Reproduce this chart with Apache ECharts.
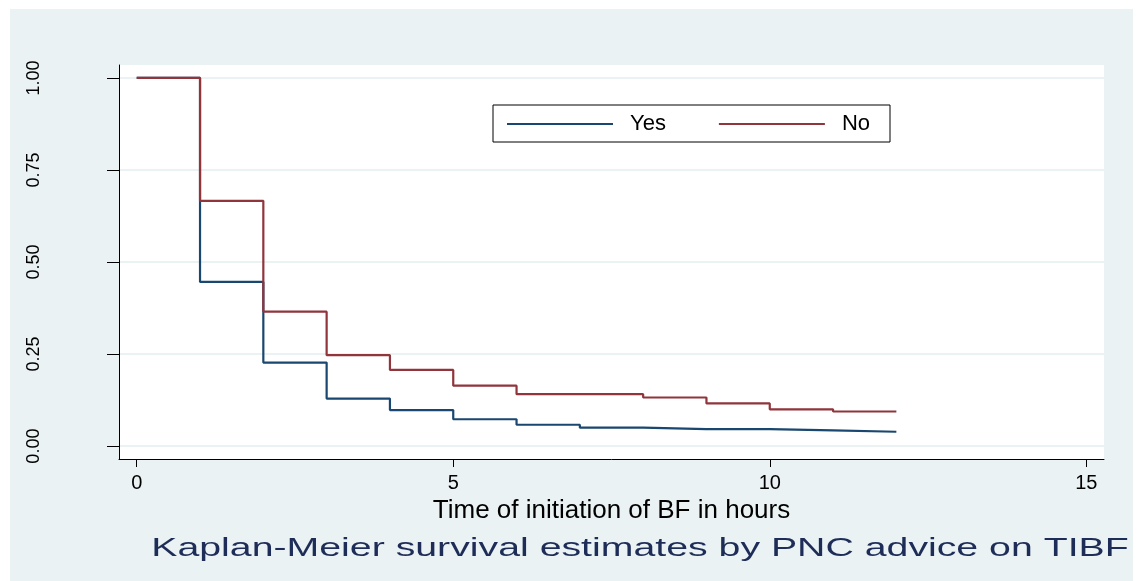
<!DOCTYPE html>
<html>
<head>
<meta charset="utf-8">
<script src="https://cdn.jsdelivr.net/npm/echarts@6/dist/echarts.min.js"></script>
<style>
html,body{margin:0;padding:0;background:#fff;}
#chart{width:1147px;height:581px;}
</style>
</head>
<body>
<div id="chart"></div>
<script>
// Data
const times   = [0, 1, 2, 3, 4, 5, 6, 7, 8, 9, 10, 11, 12];
const yesSurv = [1.00, 0.446, 0.227, 0.129, 0.098, 0.073, 0.058, 0.050, 0.046, 0.046, 0.043, 0.039, 0.039];
const noSurv  = [1.00, 0.666, 0.365, 0.247, 0.207, 0.164, 0.141, 0.141, 0.132, 0.116, 0.100, 0.094, 0.094];
const seriesNames = ['Yes', 'No'];
const xTicks = [0, 5, 10, 15];
const yTicks = [0, 0.25, 0.5, 0.75, 1];
const xTitle = 'Time of initiation of BF in hours';
const chartTitle = 'Kaplan-Meier survival estimates by PNC advice on TIBF';

const font = '"Liberation Sans", Arial, Helvetica, sans-serif';
const chart = echarts.init(document.getElementById('chart'));

chart.setOption({
  animation: false,
  backgroundColor: '#ffffff',
  graphic: [
    { type: 'rect', z: -100, silent: true,
      shape: { x: 10, y: 9, width: 1123, height: 572 },
      style: { fill: '#eaf2f3' } },
    { type: 'text', x: 640, y: 549, scaleX: 1.51, scaleY: 1,
      style: { text: chartTitle, fill: '#1e2d58', fontSize: 26, fontFamily: font,
               textAlign: 'center', textVerticalAlign: 'middle' } }
  ],
  grid: { left: 119, top: 65, right: 43, bottom: 122, show: true,
          backgroundColor: '#ffffff', borderWidth: 0, containLabel: false },
  legend: {
    left: 493, top: 105,
    orient: 'horizontal',
    backgroundColor: '#ffffff', borderColor: '#000000', borderWidth: 1,
    padding: [8, 20, 7, 14],
    icon: 'rect',
    itemWidth: 106, itemHeight: 2, itemGap: 53,
    textStyle: { color: '#000', fontSize: 22, fontFamily: font, padding: [0, 0, 0, 12] },
    data: seriesNames
  },
  xAxis: {
    type: 'value', min: -0.28, max: 15.28,
    name: xTitle, nameLocation: 'middle', nameGap: 36,
    nameTextStyle: { color: '#000', fontSize: 26, fontFamily: font },
    axisLine: { show: true, onZero: false, lineStyle: { color: '#000', width: 1 } },
    axisTick: { show: true, length: 8, customValues: xTicks, lineStyle: { color: '#000' } },
    axisLabel: { customValues: xTicks, margin: 14, color: '#000', fontSize: 20, fontFamily: font },
    splitLine: { show: false }
  },
  yAxis: {
    type: 'value', min: -0.035, max: 1.035,
    axisLine: { show: true, onZero: false, lineStyle: { color: '#000', width: 1 } },
    axisTick: { show: true, length: 12, customValues: yTicks, lineStyle: { color: '#000' } },
    axisLabel: { customValues: yTicks, rotate: 90, margin: 76, color: '#000', fontSize: 18, fontFamily: font,
                 formatter: v => v.toFixed(2) },
    splitLine: { show: true, customValues: yTicks, lineStyle: { color: '#eaf2f3', width: 2 } }
  },
  series: [
    { name: seriesNames[0], type: 'line', step: 'end', symbol: 'none',
      color: '#1a476f', lineStyle: { color: '#1a476f', width: 2.2 },
      data: times.map((t, i) => [t, yesSurv[i]]) },
    { name: seriesNames[1], type: 'line', step: 'end', symbol: 'none',
      color: '#90353b', lineStyle: { color: '#90353b', width: 2.2 },
      data: times.map((t, i) => [t, noSurv[i]]) }
  ]
});
</script>
</body>
</html>
